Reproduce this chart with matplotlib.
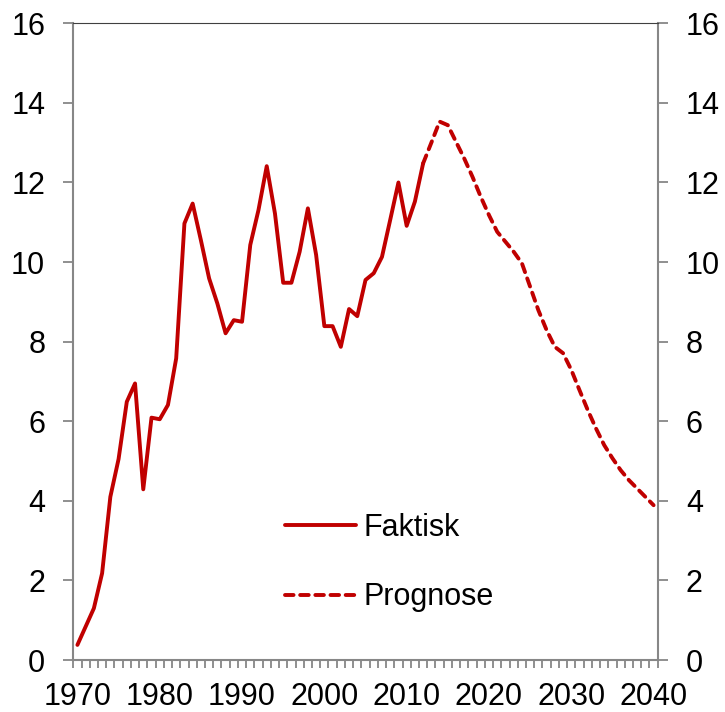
import matplotlib
matplotlib.use("Agg")
import matplotlib.pyplot as plt
import numpy as np

plt.rcParams['font.family'] = ['Liberation Sans', 'DejaVu Sans']

# Data
years_actual = list(range(1970, 2013))
actual = [0.38, 0.84, 1.30, 2.18, 4.10, 5.05, 6.49, 6.95, 4.29, 6.09,
          6.05, 6.41, 7.58, 10.97, 11.47, 10.55, 9.59, 8.96, 8.21, 8.54,
          8.50, 10.43, 11.31, 12.41, 11.22, 9.48, 9.48, 10.26, 11.35, 10.18,
          8.39, 8.39, 7.87, 8.82, 8.64, 9.55, 9.72, 10.13, 11.06, 12.00,
          10.91, 11.52, 12.48]
years_forecast = list(range(2012, 2041))
forecast = [12.48, 13.00, 13.53, 13.44, 13.02, 12.60, 12.14, 11.64, 11.18, 10.76,
            10.51, 10.26, 9.97, 9.38, 8.79, 8.29, 7.87, 7.71, 7.29, 6.78,
            6.28, 5.82, 5.40, 5.07, 4.77, 4.52, 4.31, 4.10, 3.89]
xtick_labels = [1970, 1980, 1990, 2000, 2010, 2020, 2030, 2040]
yticks = [0, 2, 4, 6, 8, 10, 12, 14, 16]
labels = ["Faktisk", "Prognose"]

red = "#C00000"
gray = "#878787"
fs = 22

fig = plt.figure(figsize=(7.25, 7.12), dpi=100)
ax = fig.add_axes([0.1011, 0.0730, 0.9072 - 0.1011, 0.9673 - 0.0730])

l1, = ax.plot(years_actual, actual, color=red, lw=2.8, solid_capstyle='round',
              solid_joinstyle='round', label=labels[0])
l2, = ax.plot(years_forecast, forecast, color=red, lw=2.8, dashes=(2.2, 1.7),
              dash_capstyle='round', label=labels[1])

ax.set_xlim(1969.5, 2040.5)
ax.set_ylim(0, 16)

ax.set_xticks(xtick_labels)
ax.set_xticklabels([str(v) for v in xtick_labels])
ax.set_xticks(np.arange(1969.5, 2041, 1.0), minor=True)
ax.tick_params(axis='x', which='major', length=0, pad=15.5, labelsize=fs)
ax.tick_params(axis='x', which='minor', length=5.8, width=1.3, color=gray, direction='out')

ax.set_yticks(yticks)
ax.tick_params(axis='y', which='major', length=7.2, width=1.3, color=gray, direction='out',
               left=True, right=True, labelleft=True, labelright=True, pad=13, labelsize=fs)

for s in ['left', 'right', 'bottom']:
    ax.spines[s].set_color(gray)
    ax.spines[s].set_linewidth(1.5)
ax.spines['top'].set_color('#404040')
ax.spines['top'].set_linewidth(0.8)

ax.legend(handles=[l1, l2], loc='center left', bbox_to_anchor=(0.342, 0.153),
          frameon=False, fontsize=fs, handlelength=2.3, handletextpad=0.25,
          labelspacing=1.3, borderaxespad=0)

fig.savefig("out.png", dpi=100)
